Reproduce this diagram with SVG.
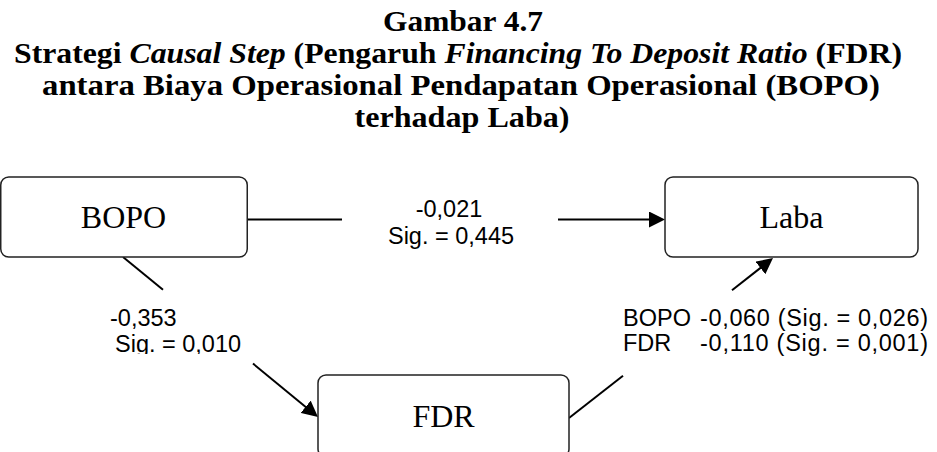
<svg xmlns="http://www.w3.org/2000/svg" width="937" height="452" viewBox="0 0 937 452">
<style>
.title{font-family:"Liberation Serif","Times New Roman",serif;font-weight:bold;font-size:28.5px;fill:#000;text-anchor:middle}
.it{font-family:"Liberation Serif","Times New Roman",serif;font-style:italic;font-weight:bold}
.box{fill:#fff;stroke:#222;stroke-width:1.5}
.nt{font-family:"Liberation Serif","Times New Roman",serif;font-size:32px;fill:#000;text-anchor:middle}
.lbl{font-family:"Liberation Sans",Arial,sans-serif;font-size:23.5px;fill:#000}
.con{stroke:#000;stroke-width:2;fill:none}
</style>
<defs>
<marker id="arrow" viewBox="0 0 16 16" refX="8" refY="8" markerWidth="16" markerHeight="16" markerUnits="userSpaceOnUse" orient="auto">
<path d="M0,0 L16,8 L0,16 z" fill="#000"/>
</marker>
<clipPath id="cutSig"><rect x="0" y="300" width="300" height="54"/></clipPath>
</defs>
<rect width="937" height="452" fill="#fff"/>
<g id="title">
<text class="title" x="463" y="31" textLength="160" lengthAdjust="spacingAndGlyphs">Gambar 4.7</text>
<text class="title" x="458" y="63" textLength="888" lengthAdjust="spacingAndGlyphs">Strategi <tspan class="it">Causal Step</tspan> (Pengaruh <tspan class="it">Financing To Deposit Ratio</tspan> (FDR)</text>
<text class="title" x="461" y="95" textLength="838" lengthAdjust="spacingAndGlyphs">antara Biaya Operasional Pendapatan Operasional (BOPO)</text>
<text class="title" x="462" y="127" textLength="215" lengthAdjust="spacingAndGlyphs">terhadap Laba)</text>
</g>
<g id="connectors">
<line class="con" x1="247" y1="219.5" x2="342" y2="219.5"/>
<line class="con" x1="558" y1="219.5" x2="657" y2="219.5" marker-end="url(#arrow)"/>
<line class="con" x1="123" y1="257" x2="163" y2="289.8"/>
<line class="con" x1="253" y1="363.6" x2="311.8" y2="411.9" marker-end="url(#arrow)"/>
<line class="con" x1="569" y1="418" x2="623" y2="375.7"/>
<line class="con" x1="732" y1="290.2" x2="766.7" y2="263" marker-end="url(#arrow)"/>
</g>
<g id="node-bopo">
<rect class="box" x="0.75" y="177" width="246.5" height="80" rx="8"/>
<text class="nt" x="123.5" y="228">BOPO</text>
</g>
<g id="node-laba">
<rect class="box" x="665" y="177" width="253" height="80" rx="8"/>
<text class="nt" x="791.5" y="228">Laba</text>
</g>
<g id="node-fdr">
<rect class="box" x="318" y="375" width="251" height="82" rx="8"/>
<text class="nt" x="443.5" y="427">FDR</text>
</g>
<g id="labels">
<text class="lbl" x="449" y="217" text-anchor="middle">-0,021</text>
<text class="lbl" x="451" y="244" text-anchor="middle">Sig. = 0,445</text>
<text class="lbl" x="110" y="326">-0,353</text>
<text class="lbl" x="115" y="352" clip-path="url(#cutSig)">Sig. = 0,010</text>
<text class="lbl" x="623" y="326">BOPO</text>
<text class="lbl" x="700" y="326" textLength="228">-0,060 (Sig. = 0,026)</text>
<text class="lbl" x="623" y="351">FDR</text>
<text class="lbl" x="700" y="351" textLength="228">-0,110 (Sig. = 0,001)</text>
</g>
</svg>
